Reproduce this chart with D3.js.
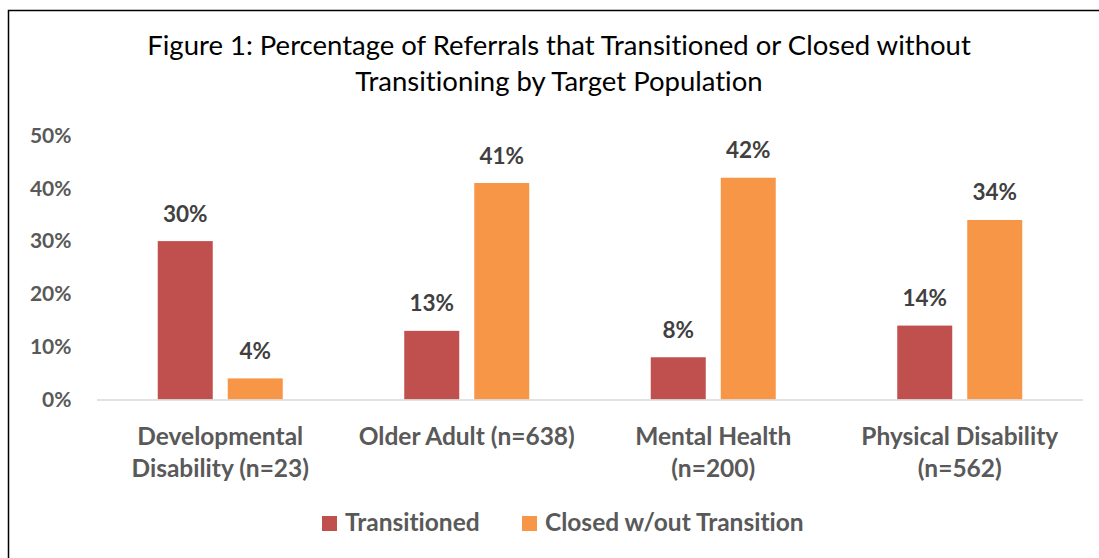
<!DOCTYPE html>
<html>
<head>
<meta charset="utf-8">
<script src="https://cdn.jsdelivr.net/npm/d3@7"></script>
<style>
  html, body { margin: 0; padding: 0; background: #fff; }
  svg { display: block; }
  text { font-family: "Lato", "Open Sans", sans-serif; font-variant-ligatures: none; font-feature-settings: "liga" 0, "clig" 0; }
</style>
</head>
<body>
<svg id="chart" width="1099" height="558"></svg>
<script>
const categories = [
  ["Developmental", "Disability (n=23)"],
  ["Older Adult (n=638)"],
  ["Mental Health", "(n=200)"],
  ["Physical Disability", "(n=562)"]
];
const seriesNames = ["Transitioned", "Closed w/out Transition"];
const transitioned = [30, 13, 8, 14];
const closedWithout = [4, 41, 42, 34];
const yTicks = [0, 10, 20, 30, 40, 50];
const titleLines = [
  "Figure 1: Percentage of Referrals that Transitioned or Closed without",
  "Transitioning by Target Population"
];
const colors = ["#C0504D", "#F79646"];

const svg = d3.select("#chart");

// outer border (extends beyond the captured area on right/bottom)
svg.append("rect")
  .attr("x", 8.5).attr("y", 10.5)
  .attr("width", 1200).attr("height", 600)
  .attr("fill", "#fff").attr("stroke", "#000").attr("stroke-width", 1.5);

// title
svg.append("g").selectAll("text").data(titleLines).join("text")
  .attr("x", 559)
  .attr("y", (d, i) => 55 + i * 36)
  .attr("text-anchor", "middle")
  .attr("font-size", 27.5)
  .attr("fill", "#000")
  .text(d => d);

const x0 = d3.scaleBand().domain(d3.range(categories.length)).range([97, 1083]);
const x1 = d3.scaleBand().domain([0, 1])
  .range([x0.bandwidth() / 2 - 62.5, x0.bandwidth() / 2 + 62.5])
  .paddingInner(0.2143);
const y = d3.scaleLinear().domain([0, 50]).range([399.5, 135.5]);

// y axis labels
const yAxis = d3.axisLeft(y).tickValues(yTicks).tickFormat(d => d + "%").tickSize(0).tickPadding(0);
const gy = svg.append("g").attr("transform", "translate(71.5,0)").call(yAxis);
gy.select(".domain").remove();
gy.selectAll("text")
  .attr("font-family", "Lato, 'Open Sans', sans-serif")
  .attr("font-size", 21).attr("font-weight", "bold").attr("fill", "#595959");

const series = [transitioned, closedWithout];

// bars
const groups = svg.append("g").selectAll("g").data(categories).join("g")
  .attr("transform", (d, i) => `translate(${x0(i)},0)`);

groups.selectAll("rect").data((d, i) => series.map((s, k) => ({k, v: s[i]}))).join("rect")
  .attr("x", d => x1(d.k))
  .attr("width", x1.bandwidth())
  .attr("y", d => y(d.v))
  .attr("height", d => y(0) - y(d.v))
  .attr("fill", d => colors[d.k]);

groups.selectAll("text.lbl").data((d, i) => series.map((s, k) => ({k, v: s[i]}))).join("text")
  .attr("class", "lbl")
  .attr("x", d => x1(d.k) + x1.bandwidth() / 2)
  .attr("y", d => y(d.v) - 19.5)
  .attr("text-anchor", "middle")
  .attr("font-size", 22.5).attr("font-weight", "bold").attr("fill", "#404040")
  .text(d => d.v + "%");

// baseline
svg.append("line")
  .attr("x1", 97).attr("x2", 1083)
  .attr("y1", y(0) + 0.5).attr("y2", y(0) + 0.5)
  .attr("stroke", "#D9D9D9").attr("stroke-width", 1.5);

// category labels
groups.each(function(d, i) {
  const g = d3.select(this);
  g.selectAll("text.cat").data(d).join("text")
    .attr("class", "cat")
    .attr("x", x0.bandwidth() / 2)
    .attr("y", (t, j) => 445 + j * 31.5)
    .attr("text-anchor", "middle")
    .attr("font-size", 24.5).attr("font-weight", "bold").attr("fill", "#595959")
    .text(t => t);
});

// legend
const legendX = [322, 522];
const lg = svg.append("g").selectAll("g").data(seriesNames).join("g")
  .attr("transform", (d, i) => `translate(${legendX[i]},0)`);
lg.append("rect").attr("x", 0).attr("y", 516).attr("width", 15).attr("height", 15)
  .attr("fill", (d, i) => colors[i]);
lg.append("text").attr("x", 23).attr("y", 531)
  .attr("font-size", 24.5).attr("font-weight", "bold").attr("fill", "#595959")
  .text(d => d);
</script>
</body>
</html>
